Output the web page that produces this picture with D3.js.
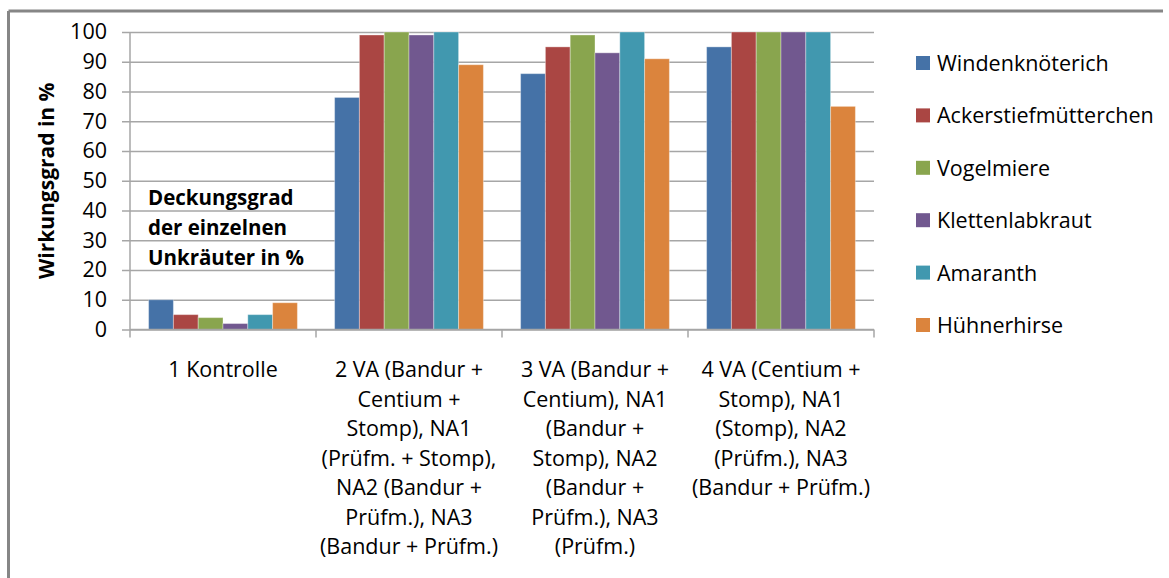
<!DOCTYPE html>
<html>
<head>
<meta charset="utf-8">
<script src="https://cdn.jsdelivr.net/npm/d3@7"></script>
<style>
html,body{margin:0;padding:0;background:#fff;}
svg{display:block;}
</style>
</head>
<body>
<svg id="chart" width="1169" height="578"></svg>
<script>
const categories = [
  ["1 Kontrolle"],
  ["2 VA (Bandur +", "Centium +", "Stomp), NA1", "(Prüfm. + Stomp),", "NA2 (Bandur +", "Prüfm.), NA3", "(Bandur + Prüfm.)"],
  ["3 VA (Bandur +", "Centium), NA1", "(Bandur +", "Stomp), NA2", "(Bandur +", "Prüfm.), NA3", "(Prüfm.)"],
  ["4 VA (Centium +", "Stomp), NA1", "(Stomp), NA2", "(Prüfm.), NA3", "(Bandur + Prüfm.)"]
];
const seriesNames = ["Windenknöterich", "Ackerstiefmütterchen", "Vogelmiere", "Klettenlabkraut", "Amaranth", "Hühnerhirse"];
const windenknoeterich   = [10, 78, 86, 95];
const ackerstiefmuetterchen = [5, 99, 95, 100];
const vogelmiere         = [4, 100, 99, 100];
const klettenlabkraut    = [2, 99, 93, 100];
const amaranth           = [5, 100, 100, 100];
const huehnerhirse       = [9, 89, 91, 75];
const seriesValues = [windenknoeterich, ackerstiefmuetterchen, vogelmiere, klettenlabkraut, amaranth, huehnerhirse];
const colors = ["#4572A7", "#AA4643", "#89A54E", "#71588F", "#4198AF", "#DB843D"];
const yTicks = [0, 10, 20, 30, 40, 50, 60, 70, 80, 90, 100];
const yTitle = "Wirkungsgrad in %";
const annotation = ["Deckungsgrad", "der einzelnen", "Unkräuter in %"];

const FONT = "'Open Sans', 'Noto Sans', sans-serif";
const FS = 21.5;
const svg = d3.select("#chart");

// outer frame (top and left edges visible)
svg.append("line").attr("x1", 8.5).attr("x2", 1163).attr("y1", 11).attr("y2", 11)
  .attr("stroke", "#868686").attr("stroke-width", 3);
svg.append("line").attr("x1", 8.5).attr("x2", 8.5).attr("y1", 11).attr("y2", 578)
  .attr("stroke", "#868686").attr("stroke-width", 3);

const plot = {left: 130, right: 874, top: 32, bottom: 329.5};
const catIdx = categories.map((c, i) => i);
const x = d3.scaleBand().domain(catIdx).range([plot.left, plot.right]).paddingInner(0).paddingOuter(0);
const xs = d3.scaleBand().domain(d3.range(seriesNames.length)).range([0, x.bandwidth()]).paddingInner(0).paddingOuter(0.75);
const y = d3.scaleLinear().domain([0, 100]).range([plot.bottom, plot.top]);

// gridlines + y axis
const gy = svg.append("g").attr("transform", `translate(${plot.left},0)`)
  .call(d3.axisLeft(y).tickValues(yTicks).tickSize(8).tickPadding(15).tickFormat(d3.format("d")));
gy.select(".domain").remove();
gy.selectAll(".tick line").attr("stroke", "#A6A6A6").attr("stroke-width", 1.5)
  .attr("x1", -8).attr("x2", plot.right - plot.left);
gy.selectAll(".tick text").attr("font-family", FONT).attr("font-size", FS).attr("fill", "#000");
svg.append("line").attr("x1", plot.left).attr("x2", plot.left).attr("y1", plot.top).attr("y2", plot.bottom)
  .attr("stroke", "#A6A6A6").attr("stroke-width", 1.5);

// bars
const groups = svg.append("g").selectAll("g").data(seriesValues).join("g").attr("fill", (d, i) => colors[i]);
groups.each(function(vals, si) {
  d3.select(this).selectAll("rect").data(vals).join("rect")
    .attr("x", (v, ci) => x(ci) + xs(si))
    .attr("width", xs.bandwidth())
    .attr("y", v => y(v))
    .attr("height", v => y(0) - y(v))
    .attr("stroke", "rgba(255,255,255,0.35)").attr("stroke-width", 1);
});

// x axis
const gx = svg.append("g").attr("transform", `translate(0,${plot.bottom})`);
gx.append("line").attr("x1", plot.left).attr("x2", plot.right).attr("stroke", "#A6A6A6").attr("stroke-width", 1.5);
const bounds = catIdx.map(i => x(i)).concat([plot.right]);
gx.selectAll(".tk").data(bounds).join("line").attr("class", "tk")
  .attr("x1", d => d).attr("x2", d => d).attr("y1", 0).attr("y2", 8)
  .attr("stroke", "#A6A6A6").attr("stroke-width", 1.5);
const labels = gx.selectAll(".lab").data(categories).join("text").attr("class", "lab")
  .attr("x", (d, i) => x(i) + x.bandwidth() / 2).attr("y", 47.5)
  .attr("text-anchor", "middle").attr("font-family", FONT).attr("font-size", FS).attr("fill", "#000");
labels.each(function(lines, i) {
  d3.select(this).selectAll("tspan").data(lines).join("tspan")
    .attr("x", x(i) + x.bandwidth() / 2).attr("dy", (d, j) => j === 0 ? 0 : 29.5).text(d => d);
});

// y title
svg.append("text").attr("transform", `translate(54,${(plot.top + plot.bottom) / 2}) rotate(-90)`)
  .attr("text-anchor", "middle").attr("font-family", FONT).attr("font-weight", "bold")
  .attr("font-size", 21).attr("fill", "#000").text(yTitle);

// annotation
svg.append("text").attr("font-family", FONT).attr("font-weight", "bold").attr("font-size", 20.5).attr("fill", "#000")
  .selectAll("tspan").data(annotation).join("tspan")
  .attr("x", 148).attr("y", (d, i) => 205 + i * 30).text(d => d);

// legend
const leg = svg.append("g").selectAll("g").data(seriesNames).join("g")
  .attr("transform", (d, i) => `translate(916,${63 + i * 52.4})`);
leg.append("rect").attr("x", 0).attr("y", -7).attr("width", 14).attr("height", 14).attr("fill", (d, i) => colors[i]);
leg.append("text").attr("x", 21).attr("y", 8).attr("font-family", FONT).attr("font-size", FS).attr("fill", "#000").text(d => d);
</script>
</body>
</html>
